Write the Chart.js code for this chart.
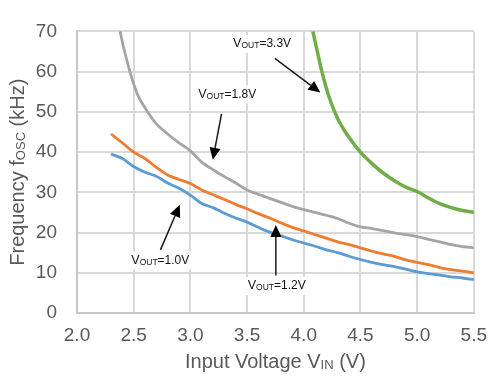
<!DOCTYPE html>
<html>
<head>
<meta charset="utf-8">
<script src="https://cdn.jsdelivr.net/npm/chart.js@4"></script>
<style>
  html, body { margin: 0; padding: 0; background: #ffffff; }
  #wrap { width: 498px; height: 376px; }
</style>
</head>
<body>
<div id="wrap"><canvas id="chart" width="498" height="376"></canvas></div>
<script>
// Input voltage (V) and oscillator frequency (kHz) per output voltage
const vin10 = [2.3, 2.4, 2.5, 2.6, 2.7, 2.8, 2.9, 3.0, 3.1, 3.2, 3.3, 3.4, 3.5, 3.6, 3.7, 3.8, 3.9, 4.0, 4.1, 4.2, 4.3, 4.4, 4.5, 4.6, 4.7, 4.8, 4.9, 5.0, 5.1, 5.2, 5.3, 5.4, 5.5];
const fosc10 = [39.5, 38.4, 36.4, 35.0, 34.0, 32.3, 31.0, 29.3, 27.2, 26.2, 24.8, 23.6, 22.6, 21.3, 20.1, 19.2, 18.2, 17.4, 16.6, 15.7, 15.0, 14.1, 13.3, 12.6, 12.0, 11.5, 10.9, 10.2, 9.8, 9.4, 9.0, 8.7, 8.3];

const vin12 = [2.3, 2.4, 2.5, 2.6, 2.7, 2.8, 2.9, 3.0, 3.1, 3.2, 3.3, 3.4, 3.5, 3.6, 3.7, 3.8, 3.9, 4.0, 4.1, 4.2, 4.3, 4.4, 4.5, 4.6, 4.7, 4.8, 4.9, 5.0, 5.1, 5.2, 5.3, 5.4, 5.5];
const fosc12 = [44.5, 42.3, 40.0, 38.4, 36.2, 34.3, 33.2, 32.2, 30.6, 29.4, 28.2, 27.0, 25.9, 24.7, 23.6, 22.4, 21.3, 20.4, 19.5, 18.6, 17.7, 17.0, 16.2, 15.4, 14.7, 14.1, 13.2, 12.6, 12.0, 11.3, 10.8, 10.4, 10.0];

const vin18 = [2.38, 2.42, 2.48, 2.54, 2.6, 2.7, 2.8, 2.9, 3.0, 3.1, 3.2, 3.3, 3.4, 3.5, 3.6, 3.7, 3.8, 3.9, 4.0, 4.1, 4.2, 4.3, 4.4, 4.5, 4.6, 4.7, 4.8, 4.9, 5.0, 5.1, 5.2, 5.3, 5.4, 5.5];
const fosc18 = [70.0, 65.0, 58.7, 53.9, 51.0, 47.0, 44.5, 42.3, 40.3, 37.5, 35.6, 33.9, 32.3, 30.6, 29.5, 28.5, 27.5, 26.5, 25.7, 25.0, 24.3, 23.5, 22.3, 21.4, 21.0, 20.5, 19.9, 19.5, 19.0, 18.3, 17.7, 17.0, 16.5, 16.2];

const vin33 = [4.08, 4.12, 4.16, 4.22, 4.3, 4.4, 4.5, 4.6, 4.7, 4.8, 4.9, 5.0, 5.1, 5.2, 5.3, 5.4, 5.5];
const fosc33 = [70.0, 65.0, 60.0, 54.0, 48.3, 43.6, 40.0, 37.2, 34.8, 32.9, 31.3, 30.2, 28.6, 27.2, 26.2, 25.5, 25.0];

const xTicks = [2.0, 2.5, 3.0, 3.5, 4.0, 4.5, 5.0, 5.5];
const yTicks = [0, 10, 20, 30, 40, 50, 60, 70];

// callouts: label value, label anchor (V, kHz), arrow tail and head (V, kHz)
const calloutNames = ['3.3V', '1.8V', '1.0V', '1.2V'];
const calloutText = [[3.377, 66.9], [3.069, 54.3], [2.479, 13.1], [3.506, 6.7]];
const calloutTail = [[3.745, 63.3], [3.275, 49.5], [2.736, 15.7], [3.754, 9.3]];
const calloutHead = [[4.147, 54.8], [3.198, 38.1], [2.907, 26.9], [3.754, 21.9]];

const FONT = 'Arial, "Liberation Sans", sans-serif';
const TXT = '#595959';

function pts(xs, ys) { return xs.map((x, i) => ({ x: x, y: ys[i] })); }

// draws text made of parts: [text, size, dy]
function richText(ctx, parts, x, y) {
  let cx = x;
  parts.forEach(p => {
    ctx.font = p[1] + 'px ' + FONT;
    ctx.fillText(p[0], cx, y + p[2]);
    cx += ctx.measureText(p[0]).width;
  });
  return cx - x;
}
function richWidth(ctx, parts) {
  let w = 0;
  parts.forEach(p => { ctx.font = p[1] + 'px ' + FONT; w += ctx.measureText(p[0]).width; });
  return w;
}

const extras = {
  id: 'extras',
  afterDatasetsDraw(chart) {
    const ctx = chart.ctx, xs = chart.scales.x, ys = chart.scales.y, area = chart.chartArea;
    ctx.save();
    ctx.textBaseline = 'middle';
    ctx.textAlign = 'left';

    // callouts
    calloutNames.forEach((name, i) => {
      const tx = xs.getPixelForValue(calloutTail[i][0]), ty = ys.getPixelForValue(calloutTail[i][1]);
      const hx = xs.getPixelForValue(calloutHead[i][0]), hy = ys.getPixelForValue(calloutHead[i][1]);
      const ang = Math.atan2(hy - ty, hx - tx);
      const hl = 12, hw = 5.5;
      const bx = hx - hl * Math.cos(ang), by = hy - hl * Math.sin(ang);
      ctx.strokeStyle = '#1a1a1a';
      ctx.lineWidth = 1.5;
      ctx.beginPath(); ctx.moveTo(tx, ty); ctx.lineTo(bx, by); ctx.stroke();
      ctx.fillStyle = '#000';
      ctx.beginPath();
      ctx.moveTo(hx, hy);
      ctx.lineTo(bx + hw * Math.sin(ang), by - hw * Math.cos(ang));
      ctx.lineTo(bx - hw * Math.sin(ang), by + hw * Math.cos(ang));
      ctx.closePath(); ctx.fill();

      const parts = [['V', 12.5, 0], ['OUT', 8.5, 2], ['=' + name, 12, 0]];
      const lx = xs.getPixelForValue(calloutText[i][0]), ly = ys.getPixelForValue(calloutText[i][1]);
      const w = richWidth(ctx, parts);
      ctx.fillStyle = '#fff';
      ctx.fillRect(lx - 3, ly - 9, w + 6, 18);
      ctx.fillStyle = '#111';
      richText(ctx, parts, lx, ly);
    });

    // axis titles
    ctx.fillStyle = TXT;
    const xt = [['Input Voltage V', 20, 0], ['IN', 13, 3], [' (V)', 20, 0]];
    const xw = richWidth(ctx, xt);
    richText(ctx, xt, (area.left + area.right) / 2 - xw / 2, 362);

    const yt = [['Frequency f', 20, 0], ['OSC', 13, 3], [' (kHz)', 20, 0]];
    const yw = richWidth(ctx, yt);
    ctx.translate(18, (area.top + area.bottom) / 2);
    ctx.rotate(-Math.PI / 2);
    richText(ctx, yt, -yw / 2, 0);
    ctx.restore();
  }
};

const line = (data, color, width) => ({
  data: data, borderColor: color, backgroundColor: color, borderWidth: width,
  pointRadius: 0, tension: 0.3, fill: false, clip: 2
});

new Chart(document.getElementById('chart'), {
  type: 'line',
  data: {
    datasets: [
      line(pts(vin10, fosc10), '#5b9bd5', 2.8),
      line(pts(vin12, fosc12), '#ed7d31', 2.8),
      line(pts(vin18, fosc18), '#a5a5a5', 2.8),
      line(pts(vin33, fosc33), '#70ad47', 3.5)
    ]
  },
  options: {
    responsive: false,
    animation: false,
    layout: { padding: { left: 0, right: 12, top: 19, bottom: 0 } },
    plugins: { legend: { display: false }, tooltip: { enabled: false } },
    scales: {
      x: {
        type: 'linear', min: 2, max: 5.5,
        afterBuildTicks: s => { s.ticks = xTicks.map(v => ({ value: v })); },
        afterFit: s => { s.height = 63; },
        grid: { color: '#d9d9d9', lineWidth: 2, drawTicks: false },
        border: { color: '#c8c8c8', width: 2 },
        ticks: { padding: 11, color: TXT, font: { family: FONT, size: 19 }, maxRotation: 0,
                 callback: v => Number(v).toFixed(1) }
      },
      y: {
        min: 0, max: 70,
        afterBuildTicks: s => { s.ticks = yTicks.map(v => ({ value: v })); },
        afterFit: s => { s.width = 77; },
        grid: { color: '#d9d9d9', lineWidth: 2, drawTicks: false },
        border: { color: '#c8c8c8', width: 2 },
        ticks: { padding: 20, color: TXT, font: { family: FONT, size: 19 } }
      }
    }
  },
  plugins: [extras]
});
</script>
</body>
</html>
